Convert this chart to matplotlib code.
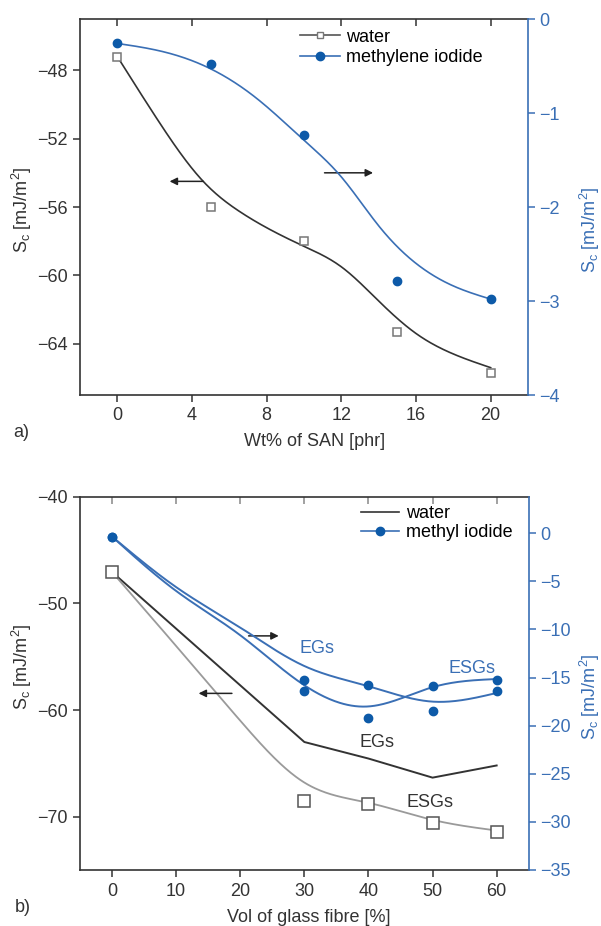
import numpy as np
import matplotlib
matplotlib.use("Agg")
import matplotlib.pyplot as plt
from matplotlib.lines import Line2D

plt.rcParams['font.family'] = ['Liberation Sans', 'DejaVu Sans']
plt.rcParams['font.size'] = 13
plt.rcParams['axes.unicode_minus'] = True

# ---------------- panel a: SAN content ----------------
san_phr = [0, 5, 10, 15, 20]
water_a = [-47.2, -56.0, -58.0, -63.3, -65.7]
mi_a = [-0.26, -0.48, -1.23, -2.79, -2.98]
# smoothed trend lines (knots)
water_a_tx = [0, 2.1, 4.6, 6.6, 10, 12, 14, 16, 18, 20]
water_a_ty = [-47.2, -50.8, -54.5, -56.3, -58.3, -59.5, -61.5, -63.4, -64.6, -65.4]
mi_a_tx = [0, 2.5, 5, 7.5, 10, 12, 14, 16, 18, 20]
mi_a_ty = [-0.26, -0.35, -0.53, -0.85, -1.29, -1.68, -2.2, -2.6, -2.84, -2.98]

# ---------------- panel b: glass fibre content ----------------
fibre_vol = [0, 30, 40, 50, 60]
water_egs = [-47.06, -63.0, -64.55, -66.34, -65.2]
water_esgs = [-47.06, -68.57, -68.84, -70.57, -71.46]
mi_egs = [-0.35, -15.26, -15.74, -18.5, -16.36]
mi_esgs = [-0.35, -16.43, -19.18, -15.84, -15.22]
water_esgs_tx = [0, 10, 20, 30, 40, 50, 60]
water_esgs_ty = [-47.06, -54.0, -61.0, -66.8, -68.7, -70.3, -71.3]
mi_egs_tx = [0, 10, 20, 30, 40, 50, 60]
mi_egs_ty = [-0.35, -5.6, -9.8, -13.8, -15.9, -17.5, -16.6]
mi_esgs_tx = [0, 10, 20, 30, 40, 50, 60]
mi_esgs_ty = [-0.35, -6.0, -10.6, -15.8, -18.0, -16.0, -15.15]

BLUE = '#3a6fb5'
DOT = '#0d5aa8'
DARK = '#333333'
GRAY = '#9a9a9a'
SQ = '#777777'


def natural_spline(xk, yk, num=300):
    xk = np.asarray(xk, float)
    yk = np.asarray(yk, float)
    n = len(xk)
    h = np.diff(xk)
    A = np.zeros((n, n))
    r = np.zeros(n)
    A[0, 0] = A[-1, -1] = 1
    for i in range(1, n - 1):
        A[i, i - 1] = h[i - 1]
        A[i, i] = 2 * (h[i - 1] + h[i])
        A[i, i + 1] = h[i]
        r[i] = 6 * ((yk[i + 1] - yk[i]) / h[i] - (yk[i] - yk[i - 1]) / h[i - 1])
    M = np.linalg.solve(A, r)
    xs = np.linspace(xk[0], xk[-1], num)
    idx = np.clip(np.searchsorted(xk, xs) - 1, 0, n - 2)
    x0, x1 = xk[idx], xk[idx + 1]
    hh = x1 - x0
    a = (x1 - xs) / hh
    b = (xs - x0) / hh
    ys = a * yk[idx] + b * yk[idx + 1] + ((a**3 - a) * M[idx] + (b**3 - b) * M[idx + 1]) * hh**2 / 6
    return xs, ys


def style_axes(ax, axr, top_color):
    for s in ['left', 'bottom', 'top']:
        ax.spines[s].set_color(DARK)
        ax.spines[s].set_linewidth(1.2)
    ax.spines['right'].set_visible(False)
    for s in ['left', 'bottom', 'top']:
        axr.spines[s].set_visible(False)
    axr.spines['right'].set_color(BLUE)
    axr.spines['right'].set_linewidth(1.2)
    ax.tick_params(axis='both', direction='out', length=5, width=1.1, color=DARK,
                   labelcolor=DARK, pad=4)
    axr.tick_params(axis='y', direction='out', length=5, width=1.1, color=BLUE,
                    labelcolor=BLUE, pad=3)
    sec = ax.secondary_xaxis('top')
    sec.set_xticks(ax.get_xticks())
    sec.tick_params(direction='in', length=5, width=1.1, color=top_color, labeltop=False)
    sec.spines['top'].set_visible(False)


fig = plt.figure(figsize=(6.01, 9.26), dpi=100)
W, H = 601.0, 926.0

# ---- panel a ----
axa = fig.add_axes([80 / W, 1 - 395 / H, 448 / W, 376 / H])
axa_r = axa.twinx()
axa.set_xlim(-2, 22)
axa.set_ylim(-67, -45)
axa_r.set_ylim(-4, 0)
axa.set_xticks([0, 4, 8, 12, 16, 20])
axa.set_yticks([-48, -52, -56, -60, -64])
axa_r.set_yticks([0, -1, -2, -3, -4])
style_axes(axa, axa_r, DARK)

tx, ty = natural_spline(water_a_tx, water_a_ty)
axa.plot(tx, ty, color=DARK, lw=1.2)
axa.plot(san_phr, water_a, ls='none', marker='s', ms=5.5, mfc='white', mec=SQ, mew=1.1)
tx, ty = natural_spline(mi_a_tx, mi_a_ty)
axa_r.plot(tx, ty, color=BLUE, lw=1.2)
axa_r.plot(san_phr, mi_a, ls='none', marker='o', ms=6, color=DOT)

arrow = dict(arrowstyle='-|>', color='#222222', lw=1.1, mutation_scale=11, shrinkA=0, shrinkB=0)
axa.annotate('', xy=(2.8, -54.5), xytext=(4.6, -54.5), arrowprops=arrow)
axa.annotate('', xy=(13.7, -54.0), xytext=(11.1, -54.0), arrowprops=arrow)

ha = [Line2D([], [], color='#555555', lw=1.2, marker='s', ms=5, mfc='white', mec=SQ),
      Line2D([], [], color=BLUE, lw=1.2, marker='o', ms=6, mfc=DOT, mec=DOT)]
axa_r.legend(ha, ['water', 'methylene iodide'], loc='upper left', bbox_to_anchor=(0.472, 0.998),
             frameon=False, borderpad=0, handlelength=2.2, handletextpad=0.3,
             labelspacing=0.2, fontsize=13)

# ---- panel b ----
axb = fig.add_axes([80 / W, 1 - 870 / H, 448.7 / W, 373.3 / H])
axb_r = axb.twinx()
axb.set_xlim(-5, 65)
axb.set_ylim(-75, -40)
axb_r.set_ylim(-35, 3.8)
axb.set_xticks([0, 10, 20, 30, 40, 50, 60])
axb.set_yticks([-40, -50, -60, -70])
axb_r.set_yticks([0, -5, -10, -15, -20, -25, -30, -35])
style_axes(axb, axb_r, '#888888')

axb.plot(fibre_vol, water_egs, color=DARK, lw=1.4)
tx, ty = natural_spline(water_esgs_tx, water_esgs_ty)
axb.plot(tx, ty, color=GRAY, lw=1.3)
axb.plot(fibre_vol, water_esgs, ls='none', marker='s', ms=8, mfc='white', mec='#555555', mew=1.1)
tx, ty = natural_spline(mi_egs_tx, mi_egs_ty)
axb_r.plot(tx, ty, color=BLUE, lw=1.4)
tx, ty = natural_spline(mi_esgs_tx, mi_esgs_ty)
axb_r.plot(tx, ty, color=BLUE, lw=1.4)
axb_r.plot(fibre_vol, mi_egs, ls='none', marker='o', ms=6, color=DOT)
axb_r.plot(fibre_vol, mi_esgs, ls='none', marker='o', ms=6, color=DOT)

axb.annotate('', xy=(26.0, -53.05), xytext=(21.3, -53.05), arrowprops=arrow)
axb.annotate('', xy=(13.5, -58.44), xytext=(18.7, -58.44), arrowprops=arrow)

axb_r.text(32.0, -12.0, 'EGs', color=BLUE, ha='center', va='center', fontsize=13)
axb_r.text(56.1, -14.1, 'ESGs', color=BLUE, ha='center', va='center', fontsize=13)
axb.text(41.4, -63.0, 'EGs', color=DARK, ha='center', va='center', fontsize=13)
axb.text(49.6, -68.7, 'ESGs', color=DARK, ha='center', va='center', fontsize=13)

hb = [Line2D([], [], color=DARK, lw=1.2),
      Line2D([], [], color=BLUE, lw=1.2, marker='o', ms=6, mfc=DOT, mec=DOT)]
axb_r.legend(hb, ['water', 'methyl iodide'], loc='upper left', bbox_to_anchor=(0.607, 1.002),
             frameon=False, borderpad=0, handlelength=2.1, handletextpad=0.35,
             labelspacing=0.12, fontsize=13)

# ---- labels ----
ylab = r'$\mathregular{S_c}$ [mJ/m$\mathregular{^2}$]'
fig.text(22 / W, 1 - 210 / H, ylab, rotation=90, ha='center', va='center', color=DARK)
fig.text(590 / W, 1 - 230 / H, ylab, rotation=90, ha='center', va='center', color=BLUE)
fig.text(22 / W, 1 - 667 / H, ylab, rotation=90, ha='center', va='center', color=DARK)
fig.text(590 / W, 1 - 697 / H, ylab, rotation=90, ha='center', va='center', color=BLUE)
fig.text(315 / W, 1 - 441 / H, 'Wt% of SAN [phr]', ha='center', va='center', color=DARK)
fig.text(309 / W, 1 - 918 / H, 'Vol of glass fibre [%]', ha='center', va='center', color=DARK)
fig.text(21 / W, 1 - 432 / H, 'a)', ha='center', va='center', color=DARK)
fig.text(23 / W, 1 - 907 / H, 'b)', ha='center', va='center', color=DARK)

fig.savefig('out.png', dpi=100)
